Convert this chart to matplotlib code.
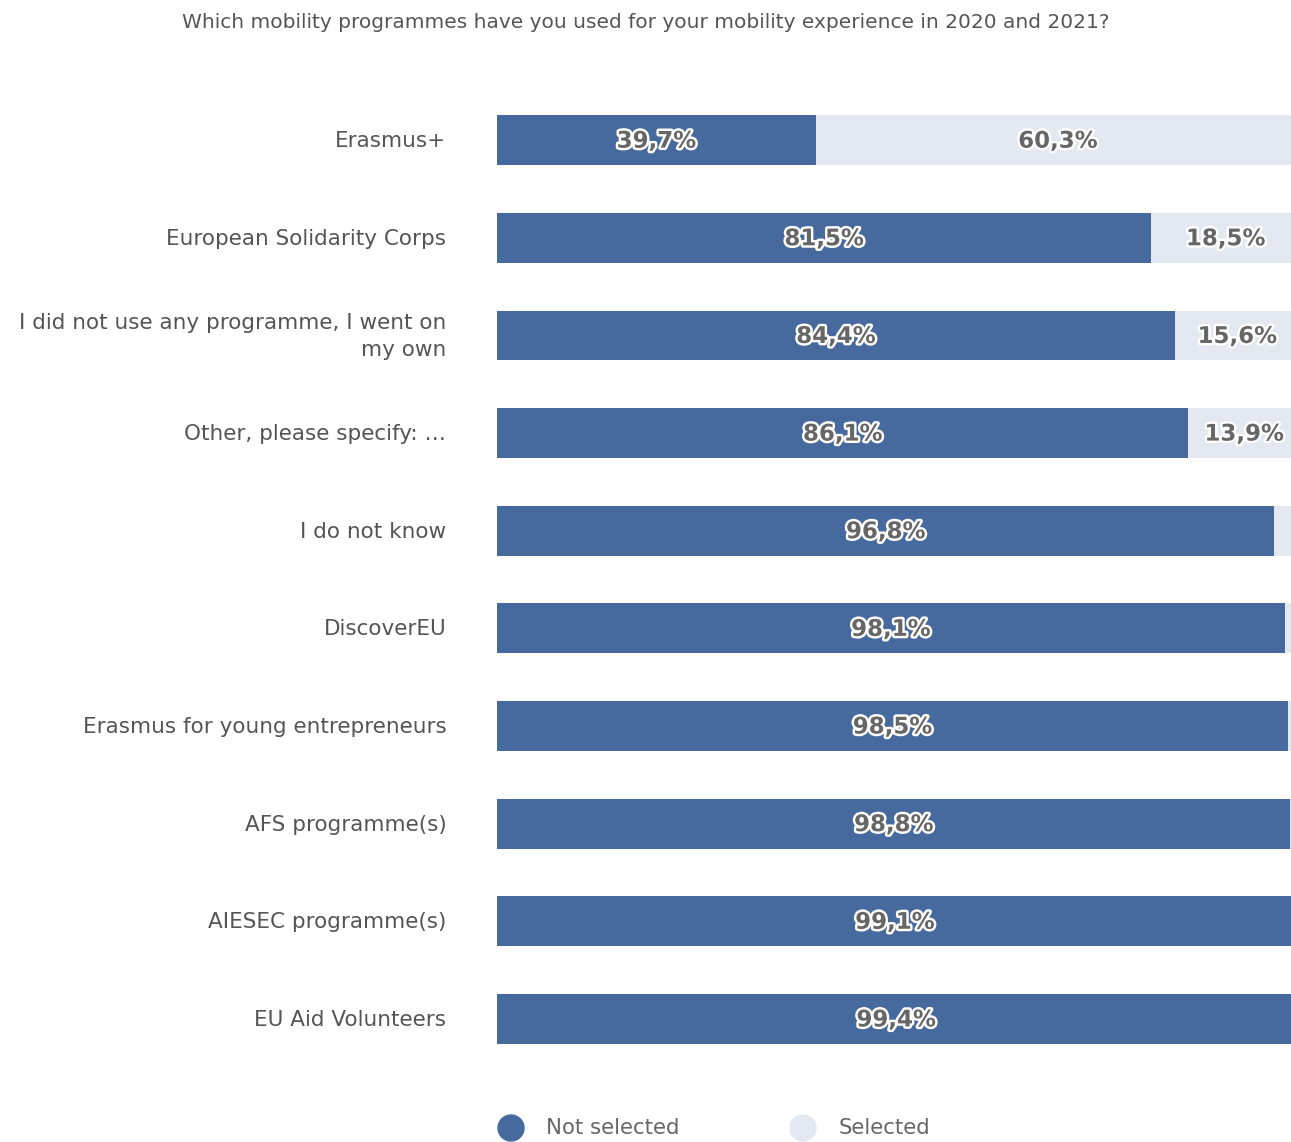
import matplotlib
matplotlib.use("Agg")
import matplotlib.pyplot as plt
import matplotlib.patheffects as pe

categories = ["Erasmus+", "European Solidarity Corps",
              "I did not use any programme, I went on\nmy own",
              "Other, please specify: …", "I do not know", "DiscoverEU",
              "Erasmus for young entrepreneurs", "AFS programme(s)",
              "AIESEC programme(s)", "EU Aid Volunteers"]
not_selected = [39.7, 81.5, 84.4, 86.1, 96.8, 98.1, 98.5, 98.8, 99.1, 99.4]
selected = [60.3, 18.5, 15.6, 13.9, 3.2, 1.9, 1.5, 1.2, 0.9, 0.6]
series_names = ["Not selected", "Selected"]

dark = "#46699E"
light = "#E3E8F1"
txt = "#666666"

plt.rcParams['font.family'] = ['DejaVu Sans']
fig = plt.figure(figsize=(12.91, 11.42), dpi=100)
ax = fig.add_axes([0.385, 0.065, 803 / 1291, 0.855])

y = list(range(len(categories)))
ax.barh(y, not_selected, height=0.51, color=dark, edgecolor='none')
ax.barh(y, selected, left=not_selected, height=0.51, color=light, edgecolor='none')
ax.set_xlim(0, 100)
ax.set_ylim(len(categories) - 0.5, -0.5)
ax.axis('off')

stroke = [pe.withStroke(linewidth=3.5, foreground='white')]
for i, (a, b) in enumerate(zip(not_selected, selected)):
    ax.text(a / 2, i + 0.01, f"{a:.1f}%".replace('.', ','), ha='center', va='center',
            fontsize=16.5, fontweight='bold', color=txt, path_effects=stroke)
    if b >= 10:
        ax.text(a + b / 2, i + 0.01, f"{b:.1f}%".replace('.', ','), ha='center', va='center',
                fontsize=16.5, fontweight='bold', color=txt, path_effects=stroke)

for i, c in enumerate(categories):
    ax.text(-6.3, i + 0.01, c, ha='right', va='center', fontsize=15.5, color='#555555',
            linespacing=1.45)

fig.text(0.5, 1 - 22 / 1142, "Which mobility programmes have you used for your mobility experience in 2020 and 2021?",
         ha='center', va='center', fontsize=14.5, color='#555555')

# legend
ly = 1 - 1128 / 1142
for xc, xt, col, name in [(511, 546, dark, series_names[0]), (803, 839, light, series_names[1])]:
    fig.patches.append(matplotlib.patches.Ellipse((xc / 1291, ly), 26 / 1291, 26 / 1142,
                                                  transform=fig.transFigure, color=col))
    fig.text(xt / 1291, ly, name, ha='left', va='center', fontsize=15.3, color='#666666')

fig.savefig("out.png", dpi=100)
